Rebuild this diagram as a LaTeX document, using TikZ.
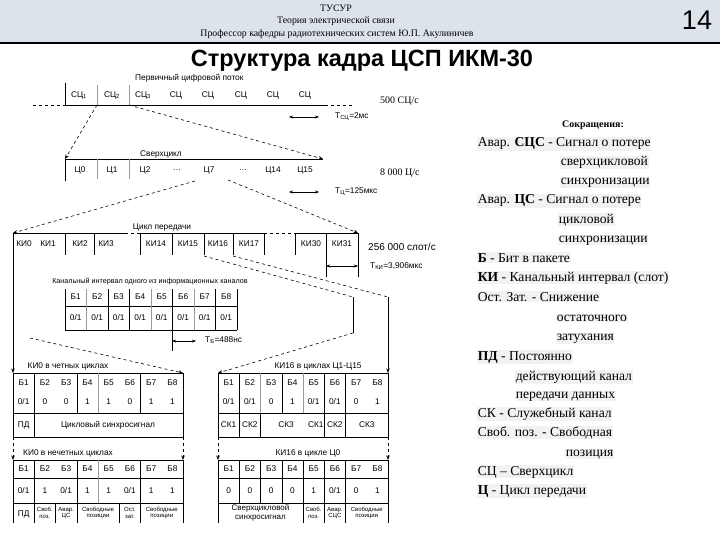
\documentclass[tikz,border=0pt]{standalone}
\usepackage{fontspec}
\setmainfont{Liberation Serif}
\setsansfont{Liberation Sans}
\usetikzlibrary{arrows.meta,positioning}

\definecolor{headbg}{HTML}{DDE3EA}
\definecolor{legbg}{HTML}{F2F2F2}

\tikzset{
  lbl/.style={font=\sffamily\fontsize{8.3}{9}\selectfont, inner sep=0pt},
  sml/.style={font=\sffamily\fontsize{6}{6.5}\selectfont, inner sep=0pt, align=center},
  rate/.style={font=\fontsize{10}{11}\selectfont, inner sep=0pt, anchor=west},
  hdr/.style={font=\fontsize{9.8}{10}\selectfont, inner sep=0pt},
  leg/.style={font=\fontsize{13.6}{15}\selectfont, inner sep=0.6pt, anchor=base west, fill=legbg},
  ln/.style={line width=0.5pt},
  lt/.style={line width=0.4pt, draw=black!40},
  dsh/.style={line width=0.6pt, dashed},
  tip/.style={-{Stealth[length=4.5pt,width=3.5pt]}},
  dim/.style={{Stealth[length=4pt,width=3pt]}-{Stealth[length=4pt,width=3pt]}, line width=0.5pt},
}

\begin{document}
\begin{tikzpicture}[x=1pt, y=-1pt]
  \useasboundingbox (0,0) rectangle (720,540);
  \def\wb{21.25}

  %
  \fill[headbg] (0,0) rectangle (720,43);
  \draw[line width=1.2pt] (0,43) -- (720,43);
  \node[hdr] (uni) at (336,8) {ТУСУР};
  \node[hdr] (course) at (336,21) {Теория электрической связи};
  \node[hdr] (prof) at (337,34) {Профессор кафедры радиотехнических систем Ю.П. Акулиничев};
  \node[font=\sffamily\fontsize{27}{27}\selectfont, inner sep=0pt] (page) at (697,20) {14};
  \node[font=\sffamily\bfseries\fontsize{23.5}{24}\selectfont, inner sep=0pt] (title) at (362,61) {Структура кадра ЦСП ИКМ-30};

  %
  \coordinate (s1l) at (65,105);
  \coordinate (s1a) at (97,105);
  \coordinate (s1b) at (129,105);
  \coordinate (s1r) at (325,105);
  \node[lbl, anchor=west] (pcp) at (135,78) {Первичный цифровой поток};
  \draw[dsh] (33,105) -- (s1l);
  \draw[ln] (s1l) -- (s1r);
  \draw[dsh] (s1r) -- (352,105);
  \draw[ln] (65,83) -- (s1l);
  \draw[lt] (97,85) -- (s1a);
  \draw[lt] (129,85) -- (s1b);
  \foreach \x/\t in {79/1,112/2,143/3} \node[lbl] (sc\t) at (\x,95) {СЦ\textsubscript{\t}};
  \foreach \x [count=\i from 4] in {176,208,241,273,305} \node[lbl] (sc\i) at (\x,95) {СЦ};
  \node[rate] (r1) at (380,101) {500 СЦ/с};
  \draw[dim] (289,117) -- (319,117);
  \node[lbl, anchor=west] (tsc) at (335,117) {Т\textsubscript{СЦ}=2мс};

  %
  \coordinate (s2l) at (65,159);
  \coordinate (s2r) at (323,159);
  \draw[dsh, tip] (s1a) -- (s2l);
  \draw[dsh, tip] (s1b) -- (s2r);
  \node[lbl, anchor=west] (scyc) at (140,154) {Сверхцикл};
  \draw[ln] (s2l) -- (s2r);
  \draw[ln] (s2l) -- (65,181);
  \draw[lt] (97,159) -- (97,179);
  \draw[lt] (129,159) -- (129,179);
  \foreach \x/\t [count=\i] in {80/Ц0,112/Ц1,145/Ц2,177/\ldots,209/Ц7,243/\ldots,273/Ц14,305/Ц15}
    \node[lbl] (c\i) at (\x,170) {\t};
  \node[rate] (r2) at (380,173) {8 000 Ц/с};
  \draw[dim] (289,192) -- (319,192);
  \node[lbl, anchor=west] (tc) at (335,192) {Т\textsubscript{Ц}=125мкс};

  %
  \coordinate (s3l) at (13,233);
  \coordinate (s3r) at (358,233);
  \draw[dsh, tip] (195,181) -- (s3l);
  \draw[dsh, tip] (228,180) -- (s3r);
  \node[lbl] (cyc) at (162,228) {Цикл передачи};
  \draw[ln] (s3l) -- (125,233);
  \draw[dsh] (125,233) -- (140,233);
  \draw[ln] (140,233) -- (264,233);
  \draw[dsh] (264,233) -- (295,233);
  \draw[ln] (295,233) -- (s3r);
  \foreach \x in {65,94,140,172,204,233,264,295} \draw[ln] (\x,233) -- (\x,255);
  \draw[ln] (326,233) -- (326,277);
  \draw[ln] (s3r) -- (358,277);
  \foreach \x/\t [count=\i] in {24/КИ0,48/КИ1,80/КИ2,106/КИ3,156/КИ14,188/КИ15,218/КИ16,249/КИ17,311/КИ30,342/КИ31}
    \node[lbl] (ki\i) at (\x,244) {\t};
  \node[rate, font=\sffamily\fontsize{10}{11}\selectfont] (r3) at (368,247) {256 000 слот/с};
  \draw[dim] (326,266) -- (358,266);
  \node[lbl, anchor=west] (tki) at (370,266) {Т\textsubscript{КИ}=3,906мкс};

  %
  \node[lbl, font=\sffamily\fontsize{7.2}{8}\selectfont] (chlbl) at (150,282) {Канальный интервал одного из информационных каналов};
  \draw[ln] (65,306) -- (237,306);
  \draw[ln] (65,330) -- (237,330);
  \foreach \k in {0,2,3,7,8} \draw[ln] ({65+21.5*\k},289) -- ++(0,41);
  \foreach \k in {1,4,6} \draw[lt] ({65+21.5*\k},289) -- ++(0,41);
  \draw[ln] (172,289) -- (172,351);
  \foreach \i in {1,...,8} \node[lbl] (kb\i) at ({65+21.5*(\i-0.5)},297) {Б\i};
  \foreach \i in {1,...,8} \node[lbl] (kv\i) at ({65+21.5*(\i-0.5)},318) {0/1};
  \draw[dim] (172,341) -- (196,341);
  \node[lbl, anchor=west] (tb) at (205,340) {Т\textsubscript{Б}=488нс};

  %
  \coordinate (k0l) at (13,373);
  \coordinate (k0r) at (183,373);
  \draw[ln, tip] (s3l) -- (k0l);
  \draw[dsh, tip] (30,338) -- (k0r);
  \coordinate (k16l) at (218,373);
  \coordinate (k16r) at (388,373);
  \draw[dsh] (204,256) -- (353,297);
  \draw[ln] (353,297) -- (353,333);
  \draw[dsh, tip] (353,333) -- (k16l);
  \draw[dsh] (233,256) -- (388,297);
  \draw[ln, tip] (388,297) -- (k16r);

  %
  \node[lbl] (ki0even) at (68,366) {КИ0 в четных циклах};
  \draw[ln] (k0l) -- (k0r);
  \draw[ln] (13,413) -- (183,413);
  \draw[ln] (13,437) -- (183,437);
  \draw[ln] (k0l) -- (13,437);
  \draw[ln] (k0r) -- (183,437);
  \foreach \k in {1,3,6} \draw[ln] ({13+\wb*\k},373) -- ++(0,40);
  \draw[lt] ({13+\wb*4},373) -- ++(0,40);
  \draw[ln] ({13+\wb},413) -- ++(0,24);
  \foreach \i in {1,...,8} \node[lbl] (ea\i) at ({13+\wb*(\i-0.5)},383) {Б\i};
  \foreach \v [count=\i] in {0/1,0,0,1,1,0,1,1} \node[lbl] (ev\i) at ({13+\wb*(\i-0.5)},402) {\v};
  \node[lbl] (pd1) at ({13+\wb*0.5},425) {ПД};
  \node[lbl] (sync1) at (108,425) {Цикловый синхросигнал};

  %
  \coordinate (k0lb) at (13,460);
  \coordinate (k0rb) at (183,460);
  \draw[dsh, tip] (13,437) -- (k0lb);
  \draw[dsh, tip] (183,437) -- (k0rb);
  \node[lbl] (ki0odd) at (68,453) {КИ0 в нечетных циклах};
  \draw[ln] (k0lb) -- (k0rb);
  \draw[ln] (13,478) -- (183,478);
  \draw[ln] (13,503) -- (183,503);
  \draw[ln] (k0lb) -- (13,523);
  \draw[ln] (k0rb) -- (183,523);
  \foreach \k in {1,3,6} \draw[ln] ({13+\wb*\k},460) -- ++(0,43);
  \draw[lt] ({13+\wb*4},460) -- ++(0,43);
  \foreach \k in {1,2,3,5,6} \draw[ln] ({13+\wb*\k},503) -- ++(0,20);
  \foreach \i in {1,...,8} \node[lbl] (oa\i) at ({13+\wb*(\i-0.5)},469) {Б\i};
  \foreach \v [count=\i] in {0/1,1,0/1,1,1,0/1,1,1} \node[lbl] (ov\i) at ({13+\wb*(\i-0.5)},491) {\v};
  \node[lbl] (pd2) at ({13+\wb*0.5},514) {ПД};
  \node[sml] (fr1) at ({13+\wb*1.5},513) {Своб.\\поз.};
  \node[sml] (alc) at ({13+\wb*2.5},513) {Авар.\\ЦС};
  \node[sml] (fr2) at ({13+\wb*4},513) {Свободные\\позиции};
  \node[sml] (att) at ({13+\wb*5.5},513) {Ост.\\зат.};
  \node[sml] (fr3) at ({13+\wb*7},513) {Свободные\\позиции};

  %
  \node[lbl] (ki16a) at (318,366) {КИ16 в циклах Ц1-Ц15};
  \draw[ln] (k16l) -- (k16r);
  \draw[ln] (218,413) -- (388,413);
  \draw[ln] (218,437) -- (388,437);
  \draw[ln] (k16l) -- (218,437);
  \draw[ln] (k16r) -- (388,437);
  \foreach \k in {1,3,5,6} \draw[ln] ({218+\wb*\k},373) -- ++(0,40);
  \foreach \k in {2,4} \draw[lt] ({218+\wb*\k},373) -- ++(0,40);
  \foreach \k in {1,2,5,6} \draw[ln] ({218+\wb*\k},413) -- ++(0,24);
  \foreach \i in {1,...,8} \node[lbl] (sa\i) at ({218+\wb*(\i-0.5)},383) {Б\i};
  \foreach \v [count=\i] in {0/1,0/1,0,1,0/1,0/1,0,1} \node[lbl] (sv\i) at ({218+\wb*(\i-0.5)},402) {\v};
  \foreach \x/\t [count=\i] in {0.5/СК1,1.5/СК2,3.2/СК3,4.6/СК1,5.5/СК2,7/СК3}
    \node[lbl] (sk\i) at ({218+\wb*\x},425) {\t};

  %
  \coordinate (k16lb) at (218,460);
  \coordinate (k16rb) at (388,460);
  \draw[dsh, tip] (218,437) -- (k16lb);
  \draw[dsh, tip] (388,437) -- (k16rb);
  \node[lbl] (ki16b) at (308,453) {КИ16 в цикле Ц0};
  \draw[ln] (k16lb) -- (k16rb);
  \draw[ln] (218,478) -- (388,478);
  \draw[ln] (218,503) -- (388,503);
  \draw[ln] (k16lb) -- (218,523);
  \draw[ln] (k16rb) -- (388,523);
  \foreach \k in {1,...,6} \draw[ln] ({218+\wb*\k},460) -- ++(0,43);
  \foreach \k in {4,5,6} \draw[ln] ({218+\wb*\k},503) -- ++(0,20);
  \foreach \i in {1,...,8} \node[lbl] (ta\i) at ({218+\wb*(\i-0.5)},469) {Б\i};
  \foreach \v [count=\i] in {0,0,0,0,1,0/1,0,1} \node[lbl] (tv\i) at ({218+\wb*(\i-0.5)},491) {\v};
  \node[lbl, align=center, font=\sffamily\fontsize{8}{8.5}\selectfont] (msync) at ({218+\wb*2},513) {Сверхцикловой\\синхросигнал};
  \node[sml] (fr4) at ({218+\wb*4.5},513) {Своб.\\поз.};
  \node[sml] (alsc) at ({218+\wb*5.5},513) {Авар.\\СЦС};
  \node[sml] (fr5) at ({218+\wb*7},513) {Свободные\\позиции};

  %
  \node[font=\bfseries\fontsize{10}{11}\selectfont, inner sep=0pt] (abbr) at (593,125) {Сокращения:};
  \node[leg] (l1) at (477,147) {Авар. \textbf{СЦС} - Сигнал о потере};
  \node[leg] (l2) at (560,166) {сверхцикловой};
  \node[leg] (l3) at (560,185) {синхронизации};
  \node[leg] (l4) at (477,204) {Авар. \textbf{ЦС} - Сигнал о потере};
  \node[leg] (l5) at (558,223) {цикловой};
  \node[leg] (l6) at (558,242) {синхронизации};
  \node[leg] (l7) at (477,262) {\textbf{Б} - Бит в пакете};
  \node[leg] (l8) at (477,281) {\textbf{КИ} - Канальный интервал (слот)};
  \node[leg] (l9) at (477,301) {Ост. Зат. - Снижение};
  \node[leg] (l10) at (556,321) {остаточного};
  \node[leg] (l11) at (556,340) {затухания};
  \node[leg] (l12) at (477,360) {\textbf{ПД} - Постоянно};
  \node[leg] (l13) at (515,380) {действующий канал};
  \node[leg] (l14) at (515,398) {передачи данных};
  \node[leg] (l15) at (477,417) {СК - Служебный канал};
  \node[leg] (l16) at (477,436) {Своб. поз. - Свободная};
  \node[leg] (l17) at (565,456) {позиция};
  \node[leg] (l18) at (477,475) {СЦ – Сверхцикл};
  \node[leg] (l19) at (477,494) {\textbf{Ц} - Цикл передачи};
\end{tikzpicture}
\end{document}
